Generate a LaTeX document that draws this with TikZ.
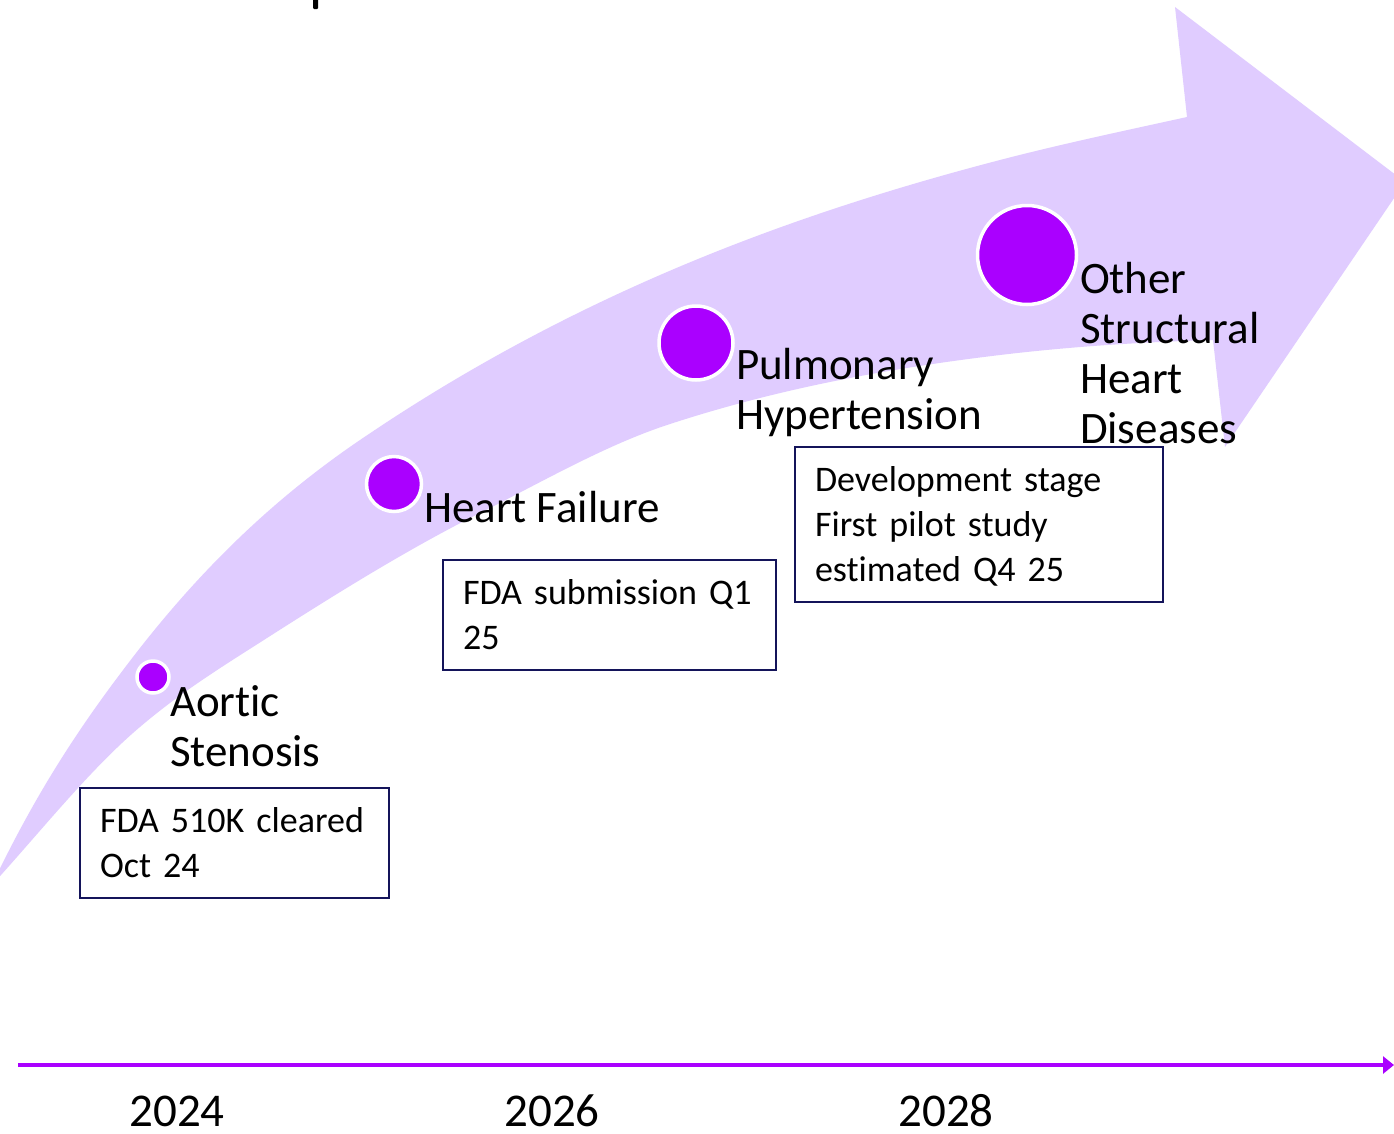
\documentclass[tikz,border=0pt]{standalone}
\usepackage{fontspec}
\setmainfont{Carlito}[Ligatures=NoCommon]
\usetikzlibrary{arrows.meta}
\definecolor{band}{HTML}{E0CCFF}
\definecolor{vio}{HTML}{AA00FF}
\definecolor{navy}{HTML}{14145A}
\newcommand{\toprule}{\rule{0pt}{44pt}}
\newcommand{\botrule}{\rule[-21pt]{0pt}{21pt}}
\begin{document}
\begin{tikzpicture}[x=1pt,y=-1pt,
  dot/.style={circle,fill=vio,draw=white,line width=3.5pt,inner sep=0pt},
  lbl/.style={anchor=base west,align=left,inner sep=0pt,outer sep=0pt,font=\fontsize{45}{50}\selectfont},
  infobox/.style={draw=navy,line width=2pt,anchor=base west,inner xsep=20pt,inner ysep=0pt,outer sep=0pt,align=left,font=\fontsize{36}{45}\selectfont},
  year/.style={anchor=base,inner sep=0pt,font=\fontsize{47}{55}\selectfont}]
\useasboundingbox (0,0) rectangle (1394,1133);
\clip (0,0) rectangle (1394,1133);
\fill[white] (0,0) rectangle (1394,1133);
% title fragment
\fill[black,rounded corners=1pt] (313,-3) rectangle (318,9);
% curved band arrow
\fill[band] (-8,885)
  .. controls (39,786) and (86,718) .. (133,657)
  .. controls (208.7,558.6) and (284.3,491.5) .. (360,440)
  .. controls (462.3,370.4) and (564.7,316) .. (667,272)
  .. controls (778,224.3) and (889,188.9) .. (1000,160)
  .. controls (1062.3,143.8) and (1124.7,130.7) .. (1187,117)
  -- (1175,7) -- (1405,182) -- (1225,447) -- (1213,340)
  .. controls (1142,342) and (1071,346.5) .. (1000,355)
  .. controls (889,368.3) and (778,388.4) .. (667,425)
  .. controls (604.7,445.6) and (542.3,481.8) .. (480,513)
  .. controls (409,548.5) and (338,592.6) .. (267,638)
  .. controls (222.3,666.6) and (177.7,693.7) .. (133,733)
  .. controls (86,774.4) and (39,833.3) .. (-8,885) -- cycle;
% dots
\node[dot,minimum size=32pt] (d1) at (153,677) {};
\node[dot,minimum size=55pt] (d2) at (394,484) {};
\node[dot,minimum size=74pt] (d3) at (696,343) {};
\node[dot,minimum size=99pt] (d4) at (1027,255) {};
% labels (anchored at the baseline of the last line)
\node[lbl] (l1) at (170,766) {Aortic\\Stenosis};
\node[lbl] (l2) at (424,522) {Heart Failure};
\node[lbl] (l3) at (736,429) {Pulmonary\\Hypertension};
\node[lbl] (l4) at (1080,443) {Other\\Structural\\Heart\\Diseases};
% boxes
\node[infobox,text width=269pt] (b1) at (80,832) {\mbox{\toprule FDA 510K cleared}\\\mbox{\botrule Oct 24}};
\node[infobox,text width=293pt] (b2) at (443,604) {\mbox{\toprule FDA submission Q1}\\\mbox{\botrule 25}};
\node[infobox,text width=328pt] (b3) at (795,491) {\mbox{\toprule Development stage}\\\mbox{First pilot study}\\\mbox{\botrule estimated Q4 25}};
% time axis
\coordinate (axs) at (18,1065);
\coordinate (axe) at (1394,1065);
\draw[vio,line width=4pt,-{Triangle[length=11pt,width=17pt]}] (axs) -- (axe);
\node[year] (y1) at (177,1126) {2024};
\node[year] (y2) at (552,1126) {2026};
\node[year] (y3) at (946,1126) {2028};
\end{tikzpicture}
\end{document}
